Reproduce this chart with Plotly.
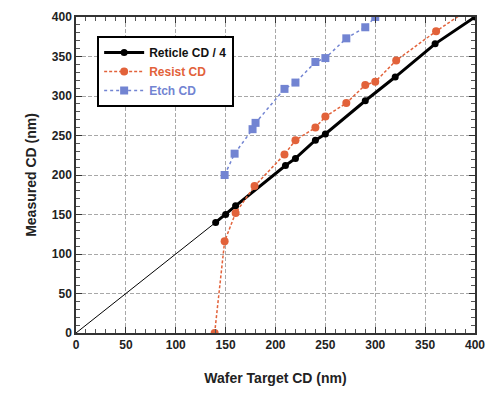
import plotly.graph_objects as go

# Reticle CD / 4 (black)
ret_x = [140, 150, 160, 210, 220, 240, 250, 290, 320, 360, 400]
ret_y = [140, 150, 161, 212, 221, 244, 252, 294, 324, 366, 400]
# Thin extension to origin
ext_x = [0, 140]
ext_y = [0, 140]
# Resist CD (red)
res_x = [139, 149, 160, 179, 209, 220, 240, 250, 271, 290, 300, 321, 361, 400]
res_y = [0, 116, 152, 186, 226, 244, 260, 274, 291, 314, 318, 345, 382, 415]
# Etch CD (blue)
etch_x = [149, 159, 177, 180, 209, 220, 240, 250, 271, 290, 300]
etch_y = [200, 227, 258, 266, 309, 317, 343, 348, 373, 387, 400]

BLACK = "#000000"
RED = "#e2623a"
BLUE = "#7284d2"


def colored(text, color):
    return f"<span style='color:{color}'><b>{text}</b></span>"


fig = go.Figure()
fig.add_trace(go.Scatter(x=ext_x, y=ext_y, mode="lines", line=dict(color=BLACK, width=1),
                         showlegend=False, hoverinfo="skip"))
fig.add_trace(go.Scatter(x=ret_x, y=ret_y, mode="lines+markers", name=colored("Reticle CD / 4", "#111111"),
                         line=dict(color=BLACK, width=3),
                         marker=dict(symbol="circle", size=7, color=BLACK)))
fig.add_trace(go.Scatter(x=res_x, y=res_y, mode="lines+markers", name=colored("Resist CD", RED),
                         line=dict(color=RED, width=1.5, dash="3px,2px"),
                         marker=dict(symbol="circle", size=8, color=RED)))
fig.add_trace(go.Scatter(x=etch_x, y=etch_y, mode="lines+markers", name=colored("Etch CD", BLUE),
                         line=dict(color=BLUE, width=1.5, dash="dot"),
                         marker=dict(symbol="square", size=8, color=BLUE)))

axis_common = dict(
    range=[0, 400], dtick=50, tick0=0,
    showline=True, linecolor="#333333", linewidth=1.5, mirror="allticks",
    ticks="inside", ticklen=6, tickcolor="#333333",
    minor=dict(ticks="inside", dtick=10, ticklen=4, tickcolor="#555555", showgrid=False),
    showgrid=True, gridcolor="#a8a8a8", gridwidth=1, griddash="4px,2px",
    zeroline=False,
    tickfont=dict(family="Liberation Sans, Arial", size=12, color="#222222", weight="bold"),
)

fig.update_layout(
    width=503, height=403,
    margin=dict(l=76, r=28, t=10, b=70),
    plot_bgcolor="white", paper_bgcolor="white",
    font=dict(family="Liberation Sans, Arial", color="#222222"),
    xaxis=dict(**axis_common,
               title=dict(text="Wafer Target CD (nm)", standoff=22,
                          font=dict(size=14, weight="bold", color="#222222"))),
    yaxis=dict(**axis_common,
               title=dict(text="Measured CD (nm)", standoff=12,
                          font=dict(size=14, weight="bold", color="#222222"))),
    legend=dict(x=0.053, y=0.94, xanchor="left", yanchor="top",
                bgcolor="white", bordercolor="black", borderwidth=2,
                font=dict(size=12), tracegroupgap=0, itemwidth=40),
    showlegend=True,
)

fig.write_html("out.html")
